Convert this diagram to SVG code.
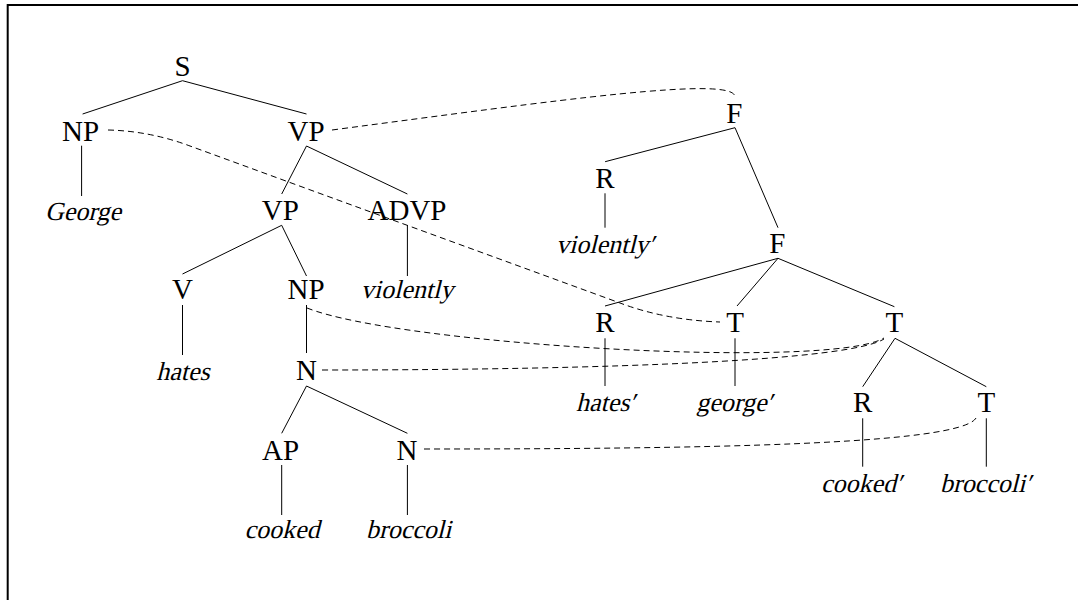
<svg xmlns="http://www.w3.org/2000/svg" width="1078" height="600" viewBox="0 0 1078 600">
<style>
.u{font-family:"Liberation Serif","DejaVu Serif",serif;font-size:29px;text-anchor:middle;fill:#000}
.i{font-family:"Liberation Serif","DejaVu Serif",serif;font-size:26px;text-anchor:middle;fill:#000}
.e{stroke:#000;stroke-width:1;fill:none}
.d{stroke:#000;stroke-width:1;fill:none;stroke-dasharray:6 4}
</style>
<rect width="1078" height="600" fill="#fff"/>
<path d="M7.7,600 V5 H1078" fill="none" stroke="#000" stroke-width="2"/>
<g id="connectors">
<g class="e">
<path d="M182.5,80.7 L82.6,114 M182.5,80.7 L306.5,114"/>
<path d="M81.6,145.7 V196"/>
<path d="M306.5,146 L281.7,194 M306.5,146 L407.4,194"/>
<path d="M281.7,225.3 L182.5,274 M281.7,225.3 L306.5,276"/>
<path d="M407.4,225.3 V276"/>
<path d="M182.5,305 V355"/>
<path d="M306.5,305 V353"/>
<path d="M306.5,386 L281.7,433.3 M306.5,386 L407.4,433.3"/>
<path d="M281.7,465 V515 M407.4,465 V515"/>
<path d="M735,127.7 L605.1,161.7 M735,127.7 L778,227.7"/>
<path d="M605,193.3 V227.7"/>
<path d="M778,258.3 L605,306 M778,258.3 L737,306 M778,258.3 L894.4,306.7"/>
<path d="M605,338.3 V386 M735,338.3 V386"/>
<path d="M895,338.3 L862.7,386.7 M895,338.3 L986.3,386.7"/>
<path d="M862.7,418.3 V466.7 M986.3,418.3 V466.7"/>
</g>
<g class="d">
<path d="M332,130 C560,100 735,75 735,97"/>
<path d="M108,130 Q150,131 190,146 L620,303 Q665,320 720,322"/>
<path d="M307,308 C400,345 830,370 884,338"/>
<path d="M322,370 C620,370 850,360 884,339"/>
<path d="M424,449 C700,449 960,445 976,418"/>
</g>
</g>
<g id="S"><text class="u" x="182.5" y="76">S</text></g>
<g id="NP"><text class="u" x="80.6" y="140.7">NP</text></g>
<g id="VP"><text class="u" x="306" y="140.7">VP</text></g>
<g id="George"><text class="i" transform="translate(83,220) skewX(-14)">George</text></g>
<g id="VP2"><text class="u" x="280.3" y="220">VP</text></g>
<g id="ADVP"><text class="u" x="407" y="220">ADVP</text></g>
<g id="V"><text class="u" x="182.5" y="299">V</text></g>
<g id="NP2"><text class="u" x="306" y="299">NP</text></g>
<g id="violently"><text class="i" transform="translate(407,298) skewX(-14)">violently</text></g>
<g id="hates"><text class="i" transform="translate(183,380) skewX(-14)">hates</text></g>
<g id="N"><text class="u" x="306.5" y="380">N</text></g>
<g id="AP"><text class="u" x="280.5" y="460">AP</text></g>
<g id="N2"><text class="u" x="407" y="460">N</text></g>
<g id="cooked"><text class="i" transform="translate(282,538) skewX(-14)">cooked</text></g>
<g id="broccoli"><text class="i" transform="translate(408.6,538) skewX(-14)">broccoli</text></g>
<g id="F1"><text class="u" x="734.3" y="123.3">F</text></g>
<g id="R1"><text class="u" x="605" y="188.3">R</text></g>
<g id="violently-prime"><text class="i" transform="translate(605,252.7) skewX(-14)">violently′</text></g>
<g id="F2"><text class="u" x="777.3" y="253.3">F</text></g>
<g id="R2"><text class="u" x="605" y="332.3">R</text></g>
<g id="T1"><text class="u" x="735" y="332.3">T</text></g>
<g id="T2"><text class="u" x="894.4" y="332.3">T</text></g>
<g id="hates-prime"><text class="i" transform="translate(605.5,411) skewX(-14)">hates′</text></g>
<g id="george-prime"><text class="i" transform="translate(734.3,411) skewX(-14)">george′</text></g>
<g id="R3"><text class="u" x="862.7" y="412">R</text></g>
<g id="T3"><text class="u" x="986.3" y="412">T</text></g>
<g id="cooked-prime"><text class="i" transform="translate(861.4,491.7) skewX(-14)">cooked′</text></g>
<g id="broccoli-prime"><text class="i" transform="translate(985.4,491.7) skewX(-14)">broccoli′</text></g>
</svg>
